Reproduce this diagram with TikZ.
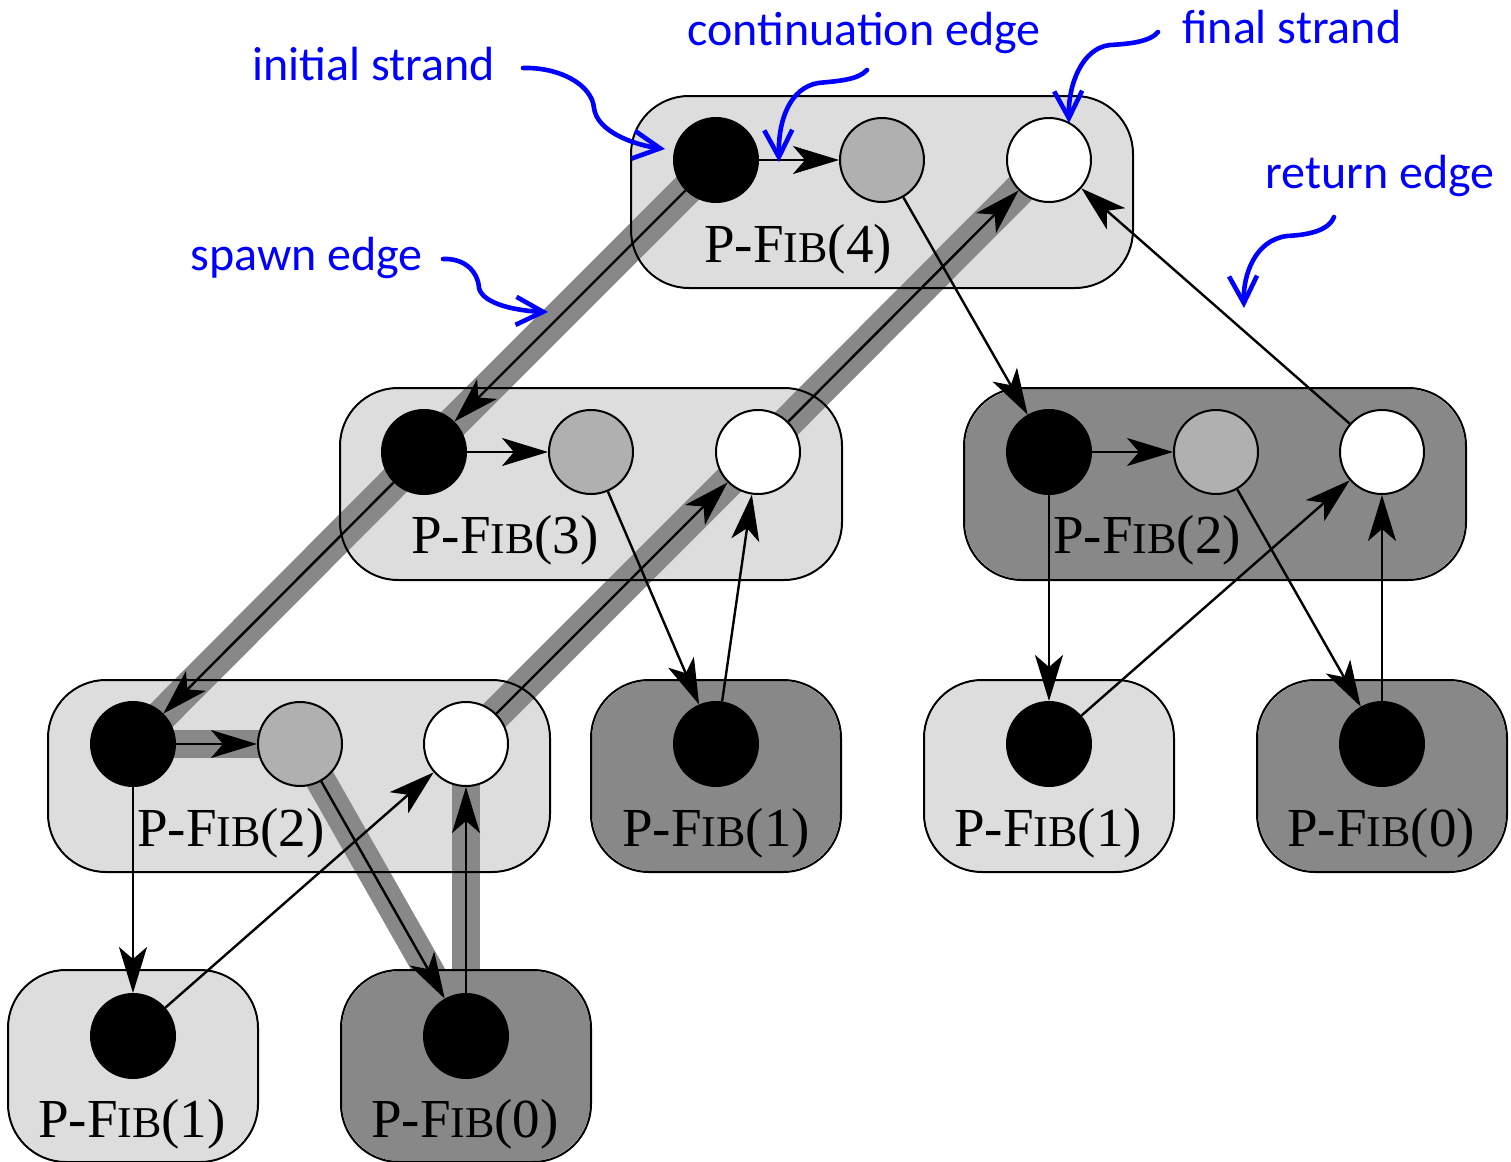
\documentclass[tikz,border=0pt]{standalone}
\usepackage{fontspec}
\setmainfont{Liberation Serif}
\newfontfamily\fibfont{Liberation Serif}
\newfontfamily\notefont{Carlito}
\usetikzlibrary{arrows.meta}

\definecolor{boxlight}{gray}{0.867}
\definecolor{boxdark}{gray}{0.533}
\definecolor{strandmid}{gray}{0.69}
\definecolor{pathband}{gray}{0.533}
\definecolor{noteblue}{RGB}{0,0,255}

% procedure name with small capitals
\newcommand\fibname[1]{P-F{\fontsize{22}{26}\selectfont IB}(#1)}

\begin{document}
\begin{tikzpicture}[x=0.5pt,y=-0.5pt,
  frame/.style={rectangle, rounded corners=29pt, minimum height=95pt, inner sep=0pt, line width=1pt},
  wide/.style={frame, minimum width=250pt},
  narrow/.style={frame, minimum width=124pt},
  lightbox/.style={fill=boxlight},
  darkbox/.style={fill=boxdark},
  border/.style={draw=black, line width=1pt, rounded corners=29pt},
  strand/.style={circle, draw=black, line width=1pt, minimum size=42pt, inner sep=0pt},
  initstrand/.style={strand, fill=black},
  midstrand/.style={strand, fill=strandmid},
  finalstrand/.style={strand, fill=white},
  band/.style={draw=pathband, line width=14pt},
  diagband/.style={draw=pathband, line width=16pt},
  dep/.style={line width=1.2pt, -{Stealth[length=23pt,width=14pt,inset=6pt]}},
  fibtext/.style={anchor=base, inner sep=0pt, font=\fibfont\fontsize{27.5}{32}\selectfont},
  notetext/.style={text=noteblue, anchor=base west, inner sep=0pt, font=\notefont\fontsize{24}{28}\selectfont},
  note/.style={draw=noteblue, line width=2.3pt, line cap=round, line join=round,
    -{Straight Barb[length=13.5pt,width=14pt,line width=2.3pt]}}
]
\useasboundingbox (0,0) rectangle (1511,1162);

% procedure frames
\node[wide, lightbox]   (fib4)  at (882,192)  {};
\node[wide, lightbox]   (fib3)  at (591,484)  {};
\node[wide, darkbox]    (fib2r) at (1215,484) {};
\node[wide, lightbox]   (fib2l) at (299,776)  {};
\node[narrow, darkbox]  (fib1m) at (716,776)  {};
\node[narrow, lightbox] (fib1r) at (1049,776) {};
\node[narrow, darkbox]  (fib0r) at (1382,776) {};
\node[narrow, lightbox] (fib1l) at (133,1066) {};
\node[narrow, darkbox]  (fib0l) at (466,1066) {};

% strand centres
\coordinate (t1) at (716,160);  \coordinate (t2) at (882,160);  \coordinate (t3) at (1049,160);
\coordinate (a1) at (424,452);  \coordinate (a2) at (591,452);  \coordinate (a3) at (758,452);
\coordinate (b1) at (1049,452); \coordinate (b2) at (1216,452); \coordinate (b3) at (1382,452);
\coordinate (c1) at (133,744);  \coordinate (c2) at (300,744);  \coordinate (c3) at (466,744);
\coordinate (d)  at (716,744);  \coordinate (e)  at (1049,744); \coordinate (f)  at (1382,744);
\coordinate (g)  at (133,1036); \coordinate (h)  at (466,1036);

% critical path band
\path[diagband] (t1) -- (a1) -- (c1);
\path[band] (c1) -- (c2);
\path[draw=pathband, line width=15pt] (c2) -- (h);
\path[band] (h) -- (c3);
\path[diagband] (c3) -- (a3) -- (t3);

% frame outlines above the band
\foreach \fr in {fib4,fib3,fib2r,fib2l,fib1m,fib1r,fib0r,fib1l,fib0l}
  \draw[border] (\fr.south west) rectangle (\fr.north east);

% strand circles
\node[initstrand]  (T1) at (t1) {};
\node[midstrand]   (T2) at (t2) {};
\node[finalstrand] (T3) at (t3) {};
\node[initstrand]  (A1) at (a1) {};
\node[midstrand]   (A2) at (a2) {};
\node[finalstrand] (A3) at (a3) {};
\node[initstrand]  (B1) at (b1) {};
\node[midstrand]   (B2) at (b2) {};
\node[finalstrand] (B3) at (b3) {};
\node[initstrand]  (C1) at (c1) {};
\node[midstrand]   (C2) at (c2) {};
\node[finalstrand] (C3) at (c3) {};
\node[initstrand]  (D)  at (d)  {};
\node[initstrand]  (E)  at (e)  {};
\node[initstrand]  (F)  at (f)  {};
\node[initstrand]  (G)  at (g)  {};
\node[initstrand]  (H)  at (h)  {};

% continuation edges
\draw[dep] (T1) -- (T2);
\draw[dep] (A1) -- (A2);
\draw[dep] (B1) -- (B2);
\draw[dep] (C1) -- (C2);
% spawn edges
\draw[dep] (T1) -- (A1);
\draw[dep] (T2) -- (B1);
\draw[dep] (A1) -- (C1);
\draw[dep] (A2) -- (D);
\draw[dep] (B1) -- (E);
\draw[dep] (B2) -- (F);
\draw[dep] (C1) -- (G);
\draw[dep] (C2) -- (H);
% return edges
\draw[dep] (A3) -- (T3);
\draw[dep] (B3) -- (T3);
\draw[dep] (D) -- (A3);
\draw[dep] (C3) -- (A3);
\draw[dep] (E) -- (B3);
\draw[dep] (F) -- (B3);
\draw[dep] (G) -- (C3);
\draw[dep] (H) -- (C3);

% procedure names
\node[fibtext] (n4)  at (798,262)  {\fibname{4}};
\node[fibtext] (n3)  at (505,553)  {\fibname{3}};
\node[fibtext] (n2r) at (1147,553) {\fibname{2}};
\node[fibtext] (n2l) at (231,846)  {\fibname{2}};
\node[fibtext] (n1m) at (716,846)  {\fibname{1}};
\node[fibtext] (n1r) at (1048,846) {\fibname{1}};
\node[fibtext] (n0r) at (1381,846) {\fibname{0}};
\node[fibtext] (n1l) at (132,1137) {\fibname{1}};
\node[fibtext] (n0l) at (465,1137) {\fibname{0}};

% annotations
\node[notetext] (initlbl)  at (252,80)  {initial strand};
\node[notetext] (spawnlbl) at (190,270) {spawn edge};
\node[notetext] (contlbl)  at (687,45)  {continuation edge};
\node[notetext] (finlbl)   at (1182,43) {final strand};
\node[notetext] (retlbl)   at (1265,188) {return edge};

\coordinate (initS) at (523,68);   \coordinate (initE) at (665,149);
\coordinate (spawnS) at (443,259); \coordinate (spawnE) at (548,312);
\coordinate (contS) at (867,70);   \coordinate (contE) at (779,162);
\coordinate (finS) at (1158,32);   \coordinate (finE) at (1069,123);
\coordinate (retS) at (1334,217);  \coordinate (retE) at (1244,308);

\draw[note] (initS) .. controls (560,67) and (592,85) .. (594,108)
  .. controls (597,132) and (635,145) .. (initE);
\draw[note] (spawnS) .. controls (465,258) and (478,272) .. (479,288)
  .. controls (483,305) and (520,311) .. (spawnE);
\draw[note] (contS) .. controls (858,80) and (838,81) .. (818,83)
  .. controls (790,88) and (778,120) .. (contE);
\draw[note] (finS) .. controls (1150,42) and (1128,44) .. (1110,45)
  .. controls (1082,48) and (1068,85) .. (finE);
\draw[note] (retS) .. controls (1328,232) and (1305,235) .. (1287,236)
  .. controls (1255,240) and (1243,275) .. (retE);
\end{tikzpicture}
\end{document}
